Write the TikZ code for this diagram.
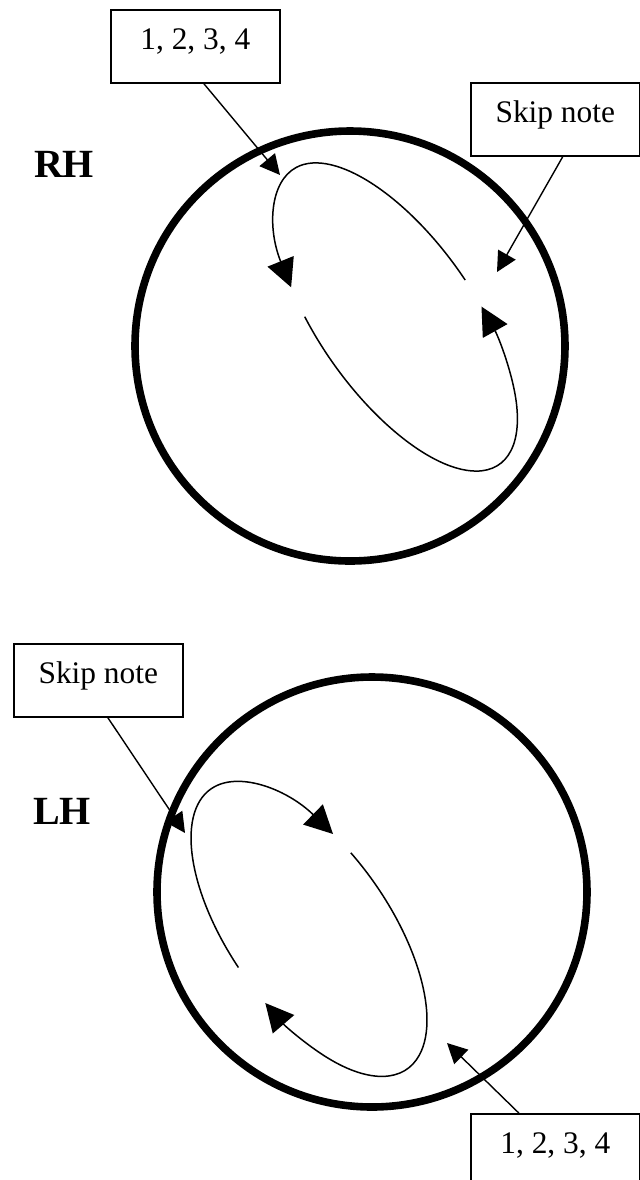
\documentclass[tikz,border=0pt]{standalone}
\usepackage{fontspec}
\setmainfont{Liberation Serif}
\usetikzlibrary{arrows.meta}

\begin{document}
\begin{tikzpicture}[x = 0.5pt, y = 0.5pt,
        rim/.style = {line width = 3.8pt},
        turn/.style = {line width = 0.75pt, -{Triangle[length = 14pt, width = 14pt]}},
        pointer/.style = {line width = 0.7pt, -{Triangle[length = 10pt, width = 10pt]}},
        notebox/.style = {draw, line width = 0.8pt, inner sep = 0pt, anchor = north west,
            minimum width = 84.5pt, text height = 20pt, text depth = 16.5pt,
            font = \fontsize{15.7}{18}\selectfont},
        hand/.style = {font = \fontsize{20}{24}\selectfont\bfseries}]
        \useasboundingbox (0, 0) rectangle (640, -1180);

        % RH
        \draw[rim] (350, -346) circle[radius = 215];
        \node[hand] (rh) at (64, -164) {RH};
        \begin{scope}[shift = {(396, -317)}, rotate = -55]
            \draw[turn] (87:180 and 78) arc[start angle = 87, end angle = 242, x radius = 180, y radius = 78];
            \draw[turn] (253:180 and 78) arc[start angle = 253, end angle = 437, x radius = 180, y radius = 78];
        \end{scope}

        \node[notebox] (rhnum) at (110, -9) {1, 2, 3, 4};
        \node[notebox] (rhskip) at (470, -82) {Skip note};
        \coordinate (rhnumtip) at (280, -175);
        \coordinate (rhskiptip) at (497, -272);
        \draw[pointer] ([xshift = 4.25pt]rhnum.south) -- (rhnumtip);
        \draw[pointer] ([xshift = 3.75pt]rhskip.south) -- (rhskiptip);

        % LH
        \draw[rim] (372, -892) circle[radius = 215];
        \node[hand] (lh) at (62, -811) {LH};
        \begin{scope}[shift = {(309, -929)}, rotate = -55]
            \draw[turn] (267:171 and 80) arc[start angle = 267, end angle = 112, x radius = 171, y radius = 80];
            \draw[turn] (103:171 and 80) arc[start angle = 103, end angle = -78, x radius = 171, y radius = 80];
        \end{scope}

        \node[notebox] (lhskip) at (13, -643) {Skip note};
        \node[notebox] (lhnum) at (470, -1113) {1, 2, 3, 4};
        \coordinate (lhskiptip) at (185, -833);
        \coordinate (lhnumtip) at (447, -1043);
        \draw[pointer] ([xshift = 4.75pt]lhskip.south) -- (lhskiptip);
        \draw[pointer] ([xshift = -18.25pt]lhnum.north) -- (lhnumtip);

    \end{tikzpicture}
\end{document}
